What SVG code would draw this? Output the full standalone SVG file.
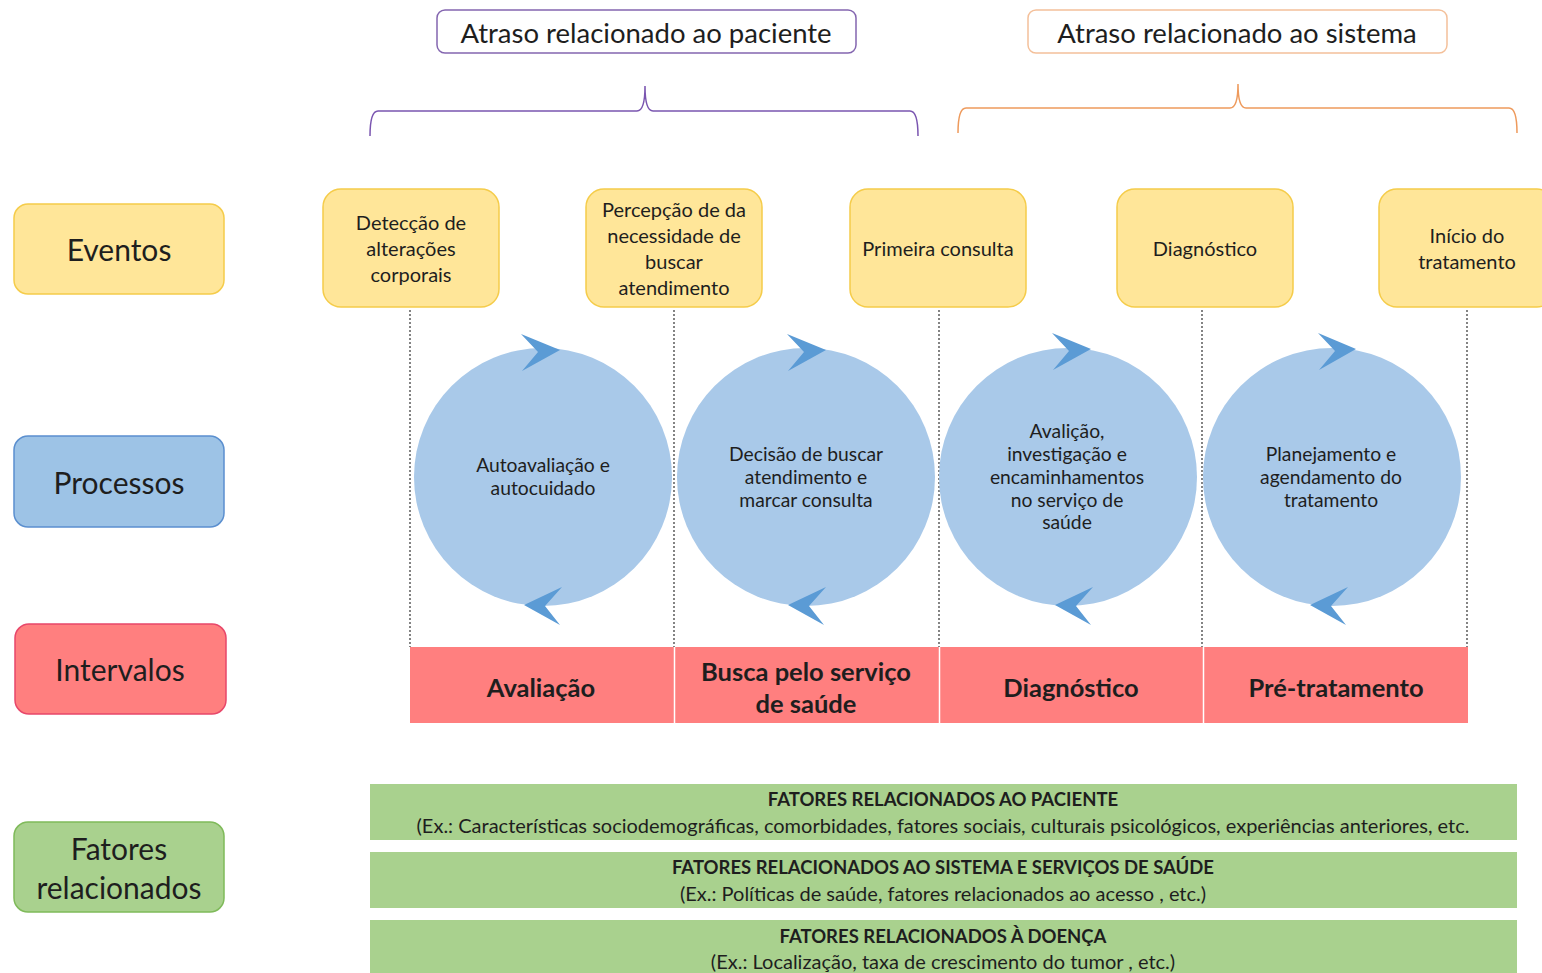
<svg xmlns="http://www.w3.org/2000/svg" width="1542" height="973" viewBox="0 0 1542 973">
  <style>
    text { font-family: Lato, "Open Sans", "Liberation Sans", sans-serif; fill: #1e1e1e; text-anchor: middle; dominant-baseline: central; }
    .hdr { font-size: 27.5px; }
    .side { font-size: 30px; }
    .evt { font-size: 20px; }
    .proc { font-size: 19.3px; }
    .intv { font-size: 25.5px; font-weight: bold; }
    .ftit { font-size: 18.5px; font-weight: bold; }
    .fsub { font-size: 20px; }
    .event-box { fill: #ffe699; stroke: #f5cc4a; stroke-width: 1.5; }
    .circle { fill: #a9c9e9; }
    .turn { fill: #5b9bd5; }
    .guide { stroke: #333; stroke-width: 1.2; stroke-dasharray: 2 2; fill: none; }
    .bar { fill: #a9d18e; }
    .brace { fill: none; stroke-width: 1.5; }
  </style>

  <rect width="1542" height="973" fill="#ffffff"/>

  <!-- delay headers -->
  <g id="hdr-paciente">
    <rect x="437" y="10" width="419" height="43" rx="8" fill="#fff" stroke="#8466b0" stroke-width="1.5"/>
    <text class="hdr" x="646" y="32">Atraso relacionado ao paciente</text>
  </g>
  <g id="hdr-sistema">
    <rect x="1028" y="10" width="419" height="43" rx="8" fill="#fff" stroke="#f4c09a" stroke-width="1.5"/>
    <text class="hdr" x="1237" y="32">Atraso relacionado ao sistema</text>
  </g>

  <!-- braces -->
  <g id="braces">
    <path class="brace" stroke="#7a55b0" d="M370,136 Q370,111 378,111 L637,111 Q645,111 645,86 Q645,111 653,111 L910,111 Q918,111 918,136"/>
    <path class="brace" stroke="#ee9a5c" d="M958,133 Q958,108 966,108 L1230,108 Q1238,108 1238,84 Q1238,108 1246,108 L1509,108 Q1517,108 1517,133"/>
  </g>

  <!-- row labels -->
  <g id="lbl-eventos">
    <rect x="14" y="204" width="210" height="90" rx="14" fill="#ffe699" stroke="#f5cc4a" stroke-width="1.5"/>
    <text class="side" x="119" y="249">Eventos</text>
  </g>
  <g id="lbl-processos">
    <rect x="14" y="436" width="210" height="91" rx="14" fill="#9dc3e6" stroke="#5b8fcf" stroke-width="1.5"/>
    <text class="side" x="119" y="482">Processos</text>
  </g>
  <g id="lbl-intervalos">
    <rect x="15" y="624" width="211" height="90" rx="14" fill="#ff7f7f" stroke="#e8476a" stroke-width="1.5"/>
    <text class="side" x="120" y="669">Intervalos</text>
  </g>
  <g id="lbl-fatores">
    <rect x="14" y="822" width="210" height="90" rx="14" fill="#a9d18e" stroke="#7fba5a" stroke-width="1.5"/>
    <text class="side" x="119" y="848">Fatores</text>
    <text class="side" x="119" y="887">relacionados</text>
  </g>

  <!-- dotted guides from events down to intervals -->
  <g id="connectors">
    <line class="guide" x1="410" y1="310" x2="410" y2="647"/>
    <line class="guide" x1="674" y1="310" x2="674" y2="647"/>
    <line class="guide" x1="939" y1="310" x2="939" y2="647"/>
    <line class="guide" x1="1202" y1="310" x2="1202" y2="647"/>
    <line class="guide" x1="1467" y1="310" x2="1467" y2="647"/>
  </g>

  <!-- events -->
  <g id="evt-deteccao">
    <rect class="event-box" x="323" y="189" width="176" height="118" rx="18"/>
    <text class="evt" x="411" y="222">Detecção de</text>
    <text class="evt" x="411" y="248">alterações</text>
    <text class="evt" x="411" y="274">corporais</text>
  </g>
  <g id="evt-percepcao">
    <rect class="event-box" x="586" y="189" width="176" height="118" rx="18"/>
    <text class="evt" x="674" y="209">Percepção de da</text>
    <text class="evt" x="674" y="235">necessidade de</text>
    <text class="evt" x="674" y="261">buscar</text>
    <text class="evt" x="674" y="287">atendimento</text>
  </g>
  <g id="evt-consulta">
    <rect class="event-box" x="850" y="189" width="176" height="118" rx="18"/>
    <text class="evt" x="938" y="248">Primeira consulta</text>
  </g>
  <g id="evt-diagnostico">
    <rect class="event-box" x="1117" y="189" width="176" height="118" rx="18"/>
    <text class="evt" x="1205" y="248">Diagnóstico</text>
  </g>
  <g id="evt-inicio">
    <rect class="event-box" x="1379" y="189" width="176" height="118" rx="18"/>
    <text class="evt" x="1467" y="235">Início do</text>
    <text class="evt" x="1467" y="261">tratamento</text>
  </g>

  <!-- processes: cycles -->
  <g id="proc-autoavaliacao">
    <circle class="circle" cx="543" cy="477" r="129"/>
    <polygon class="turn" points="521,334 560,350 522,371 538,352"/>
    <polygon class="turn" points="562,587 524,605 560,625 545,606"/>
    <text class="proc" x="543" y="464">Autoavaliação e</text>
    <text class="proc" x="543" y="487">autocuidado</text>
  </g>
  <g id="proc-decisao">
    <circle class="circle" cx="806" cy="477" r="129"/>
    <polygon class="turn" points="787,334 826,350 788,371 804,352"/>
    <polygon class="turn" points="826,587 788,605 824,625 809,606"/>
    <text class="proc" x="806" y="453">Decisão de buscar</text>
    <text class="proc" x="806" y="476">atendimento e</text>
    <text class="proc" x="806" y="499">marcar consulta</text>
  </g>
  <g id="proc-avaliacao">
    <circle class="circle" cx="1068" cy="477" r="129"/>
    <polygon class="turn" points="1052,333 1091,349 1053,370 1069,351"/>
    <polygon class="turn" points="1093,587 1055,605 1091,625 1076,606"/>
    <text class="proc" x="1067" y="430">Avalição,</text>
    <text class="proc" x="1067" y="453">investigação e</text>
    <text class="proc" x="1067" y="476">encaminhamentos</text>
    <text class="proc" x="1067" y="499">no serviço de</text>
    <text class="proc" x="1067" y="521">saúde</text>
  </g>
  <g id="proc-planejamento">
    <circle class="circle" cx="1332" cy="477" r="129"/>
    <polygon class="turn" points="1318,333 1356,349 1319,370 1335,351"/>
    <polygon class="turn" points="1348,587 1310,605 1346,625 1331,606"/>
    <text class="proc" x="1331" y="453">Planejamento e</text>
    <text class="proc" x="1331" y="476">agendamento do</text>
    <text class="proc" x="1331" y="499">tratamento</text>
  </g>

  <!-- intervals -->
  <g id="intervalos">
    <rect x="410" y="647" width="1058" height="76" fill="#ff7f7f"/>
    <line x1="674.5" y1="647" x2="674.5" y2="723" stroke="#fff" stroke-width="1.5"/>
    <line x1="939.5" y1="647" x2="939.5" y2="723" stroke="#fff" stroke-width="1.5"/>
    <line x1="1203.5" y1="647" x2="1203.5" y2="723" stroke="#fff" stroke-width="1.5"/>
    <text class="intv" x="541" y="687">Avaliação</text>
    <text class="intv" x="806" y="671">Busca pelo serviço</text>
    <text class="intv" x="806" y="703">de saúde</text>
    <text class="intv" x="1071" y="687">Diagnóstico</text>
    <text class="intv" x="1336" y="687">Pré-tratamento</text>
  </g>

  <!-- related factors -->
  <g id="fat-paciente">
    <rect class="bar" x="370" y="784" width="1147" height="56"/>
    <text class="ftit" x="943" y="799">FATORES RELACIONADOS AO PACIENTE</text>
    <text class="fsub" x="943" y="825">(Ex.: Características sociodemográficas, comorbidades, fatores sociais, culturais psicológicos, experiências anteriores, etc.</text>
  </g>
  <g id="fat-sistema">
    <rect class="bar" x="370" y="852" width="1147" height="56"/>
    <text class="ftit" x="943" y="867">FATORES RELACIONADOS AO SISTEMA E SERVIÇOS DE SAÚDE</text>
    <text class="fsub" x="943" y="893">(Ex.: Políticas de saúde, fatores relacionados ao acesso , etc.)</text>
  </g>
  <g id="fat-doenca">
    <rect class="bar" x="370" y="920" width="1147" height="60"/>
    <text class="ftit" x="943" y="936">FATORES RELACIONADOS À DOENÇA</text>
    <text class="fsub" x="943" y="961">(Ex.: Localização, taxa de crescimento do tumor , etc.)</text>
  </g>
</svg>
